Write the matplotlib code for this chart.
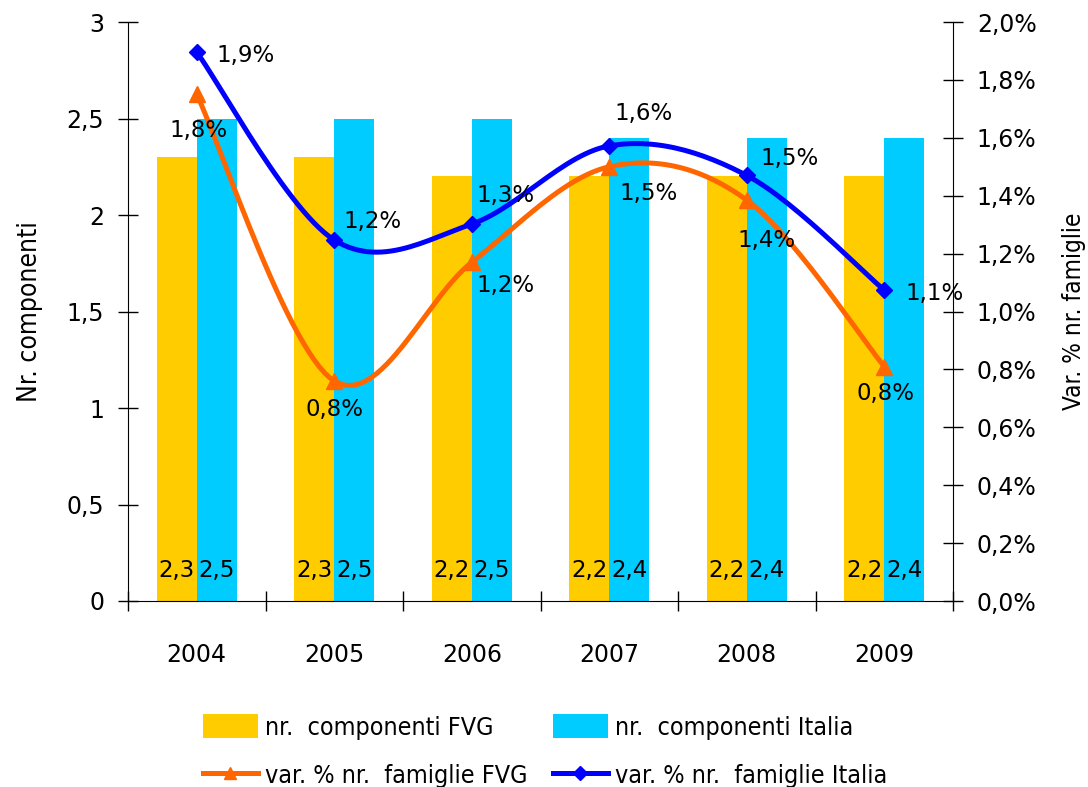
import numpy as np
import matplotlib
matplotlib.use("Agg")
import matplotlib.pyplot as plt
from matplotlib.lines import Line2D
from matplotlib.patches import Patch
from matplotlib.ticker import FixedLocator, FuncFormatter

years = ["2004", "2005", "2006", "2007", "2008", "2009"]
comp_fvg = [2.3, 2.3, 2.2, 2.2, 2.2, 2.2]
comp_ita = [2.5, 2.5, 2.5, 2.4, 2.4, 2.4]
var_fvg = [1.75, 0.76, 1.17, 1.50, 1.385, 0.81]
var_ita = [1.896, 1.247, 1.302, 1.572, 1.47, 1.074]
var_fvg_lbl = ["1,8%", "0,8%", "1,2%", "1,5%", "1,4%", "0,8%"]
var_ita_lbl = ["1,9%", "1,2%", "1,3%", "1,6%", "1,5%", "1,1%"]

C_FVG_BAR = "#FFCC00"
C_ITA_BAR = "#00CCFF"
C_FVG_LINE = "#FF6600"
C_ITA_LINE = "#0000FF"

plt.rcParams["font.family"] = ["DejaVu Sans"]
NARROW_PROP = dict(family="DejaVu Sans", stretch="condensed")

def smooth(x, y, n=30):
    x = np.asarray(x, float); y = np.asarray(y, float)
    P = np.column_stack([x, y])
    out = []
    for i in range(len(P) - 1):
        p0 = P[i - 1] if i > 0 else P[i]
        p1 = P[i]; p2 = P[i + 1]
        p3 = P[i + 2] if i + 2 < len(P) else P[i + 1]
        b1 = p1 + (p2 - p0) / 6.0
        b2 = p2 - (p3 - p1) / 6.0
        t = np.linspace(0, 1, n)[:, None]
        seg = ((1 - t) ** 3) * p1 + 3 * ((1 - t) ** 2) * t * b1 + 3 * (1 - t) * t ** 2 * b2 + t ** 3 * p2
        out.append(seg if i == 0 else seg[1:])
    s = np.vstack(out)
    return s[:, 0], s[:, 1]

fig = plt.figure(figsize=(10.88, 7.87), dpi=100)
ax = fig.add_axes([128 / 1088, 1 - 601 / 787, (953 - 128) / 1088, (601 - 22) / 787])
ax2 = ax.twinx()

x = np.arange(len(years))
w = 0.29
LBL = 16.5
ax.bar(x - w / 2, comp_fvg, width=w, color=C_FVG_BAR, zorder=2)
ax.bar(x + w / 2, comp_ita, width=w, color=C_ITA_BAR, zorder=2)
for xi, v in zip(x, comp_fvg):
    ax.text(xi - w / 2, 0.16, f"{v:.1f}".replace(".", ","), ha="center", va="center", fontsize=LBL, zorder=5)
for xi, v in zip(x, comp_ita):
    ax.text(xi + w / 2, 0.16, f"{v:.1f}".replace(".", ","), ha="center", va="center", fontsize=LBL, zorder=5)

ax.set_xlim(-0.5, len(years) - 0.5)
ax.set_ylim(0, 3)
ax2.set_ylim(0, 2.0)

sx, sy = smooth(x, var_fvg)
ax2.plot(sx, sy, color=C_FVG_LINE, lw=3.6, solid_capstyle="round", zorder=3)
ax2.plot(x, var_fvg, ls="none", marker="^", ms=11, color=C_FVG_LINE, zorder=4)
sx, sy = smooth(x, var_ita)
ax2.plot(sx, sy, color=C_ITA_LINE, lw=3.6, solid_capstyle="round", zorder=3)
ax2.plot(x, var_ita, ls="none", marker="D", ms=8, color=C_ITA_LINE, zorder=4)

fvg_off = [(2, -36), (0, -29), (34, -23), (39, -27), (20, -40), (1, -27)]
ita_off = [(49, -3), (38, 18), (34, 29), (34, 32), (43, 17), (50, -3)]
for xi, v, l, o in zip(x, var_fvg, var_fvg_lbl, fvg_off):
    ax2.annotate(l, (xi, v), xytext=(o[0] * 0.72, o[1] * 0.72), textcoords="offset points",
                 ha="center", va="center", fontsize=LBL, zorder=6)
for xi, v, l, o in zip(x, var_ita, var_ita_lbl, ita_off):
    ax2.annotate(l, (xi, v), xytext=(o[0] * 0.72, o[1] * 0.72), textcoords="offset points",
                 ha="center", va="center", fontsize=LBL, zorder=6)

ax.set_zorder(1); ax2.set_zorder(2)
ax.patch.set_visible(False)
for a in (ax, ax2):
    a.spines["top"].set_visible(False)
ax.spines["right"].set_visible(False)
ax2.spines["left"].set_visible(False)
ax2.spines["bottom"].set_visible(False)

ax.set_yticks([0, 0.5, 1, 1.5, 2, 2.5, 3])
ax.yaxis.set_major_formatter(FuncFormatter(lambda v, p: f"{v:g}".replace(".", ",")))
ax.tick_params(axis="y", direction="inout", length=14.4, width=1, labelsize=17, pad=10)
ax2.set_yticks(np.arange(0, 2.01, 0.2))
ax2.yaxis.set_major_formatter(FuncFormatter(lambda v, p: f"{v:.1f}%".replace(".", ",")))
ax2.tick_params(axis="y", direction="inout", length=14.4, width=1, labelsize=17, pad=10)

ax.set_xticks(x)
ax.set_xticklabels(years)
ax.xaxis.set_minor_locator(FixedLocator(np.arange(-0.5, len(years), 1.0)))
ax.tick_params(axis="x", which="major", length=0, labelsize=17, pad=30)
ax.tick_params(axis="x", which="minor", direction="inout", length=14.4, width=1)

ax.set_ylabel("Nr. componenti", fontsize=19, labelpad=17, **NARROW_PROP)
ax2.set_ylabel("Var. % nr. famiglie", fontsize=17.5, rotation=90, labelpad=18, **NARROW_PROP)

handles = [
    Patch(facecolor=C_FVG_BAR, edgecolor="none"),
    Line2D([0], [0], color=C_FVG_LINE, lw=3.6, marker="^", ms=9),
    Patch(facecolor=C_ITA_BAR, edgecolor="none"),
    Line2D([0], [0], color=C_ITA_LINE, lw=3.6, marker="D", ms=7),
]
labels = ["nr.  componenti FVG", "var. % nr.  famiglie FVG",
          "nr.  componenti Italia", "var. % nr.  famiglie Italia"]
fig.legend(handles, labels, ncol=2, loc="center", bbox_to_anchor=(545 / 1088, 1 - 751 / 787),
           frameon=False, prop={"family": "DejaVu Sans", "stretch": "condensed", "size": 18},
           handlelength=2.2, handleheight=1.1, handletextpad=0.3, columnspacing=1.0, labelspacing=0.9)

fig.savefig("out.png", dpi=100)
